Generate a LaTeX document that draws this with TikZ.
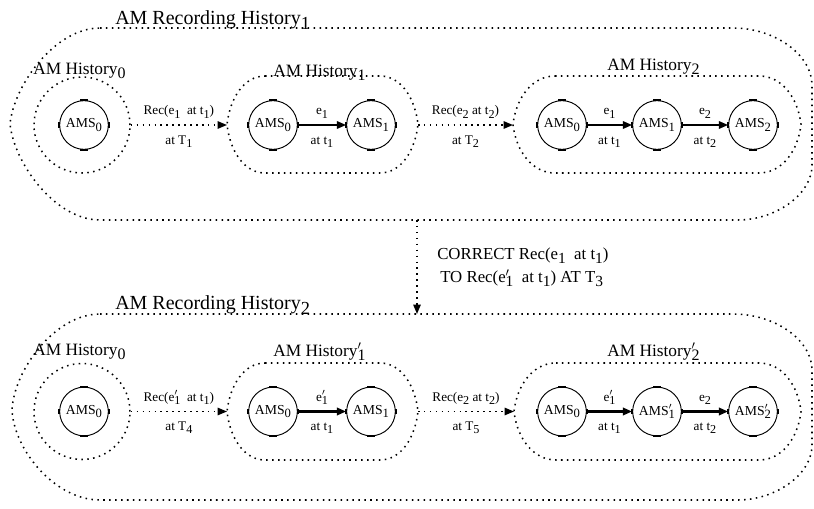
\documentclass[tikz,border=0pt]{standalone}
\usepackage{fontspec}
\setmainfont{Liberation Serif}
\usepackage{graphicx}
\usetikzlibrary{arrows.meta}
\newcommand{\lsub}[1]{\raisebox{-0.5ex}{\scalebox{0.92}{#1}}}
\newcommand{\lpsub}[1]{\makebox[0pt][l]{\raisebox{0.15ex}{$'$}}\lsub{#1}}
\begin{document}
\begin{tikzpicture}[x=0.75pt,y=-0.75pt,
  dotl/.style={line width=1.15pt, dash pattern=on 1.15pt off 3.3pt},
  dotarr/.style={dotl, -{Triangle[length=7pt,width=5.5pt]}},
  ams/.style={circle, draw, line width=0.7pt, minimum size=36.5pt, inner sep=0pt, font=\fontsize{10.3}{12}\selectfont},
  tickm/.style={line width=1.6pt},
  evt/.style={line width=1.6pt, -{Triangle[length=7pt,width=5.5pt]}},
  evtb/.style={line width=2.5pt, -{Triangle[length=7pt,width=5.5pt]}},
  lbl/.style={font=\fontsize{9.9}{11}\selectfont, inner sep=0pt, anchor=base},
  above lbl/.style={lbl, midway, yshift=7.5pt},
  below lbl/.style={lbl, midway, yshift=-14.5pt},
  hist/.style={font=\fontsize{13}{15}\selectfont, inner sep=0pt, anchor=base west},
  ttl/.style={font=\fontsize{15}{18}\selectfont, inner sep=0pt, anchor=base west},
  midtxt/.style={font=\fontsize{12.6}{14}\selectfont, inner sep=0pt, anchor=base west},
  hzero/.style={circle, dotl, draw, minimum size=72pt, inner sep=0pt}
]
\useasboundingbox (0,0) rectangle (814,509);

% ================= TOP: AM Recording History 1 =================
\draw[dotl] (100,28) -- (733,28) .. controls (775,28) and (812,55) .. (812,85) -- (812,165) .. controls (812,195) and (775,220) .. (738,220) -- (100,220) .. controls (55,220) and (14,163) .. (10,124) .. controls (14,85) and (55,28) .. (100,28);
\node[ttl] (t1) at (115,25) {AM Recording History\lsub{1}};

% History 0
\node[hzero] (h0) at (82,125) {};
\node[hist] (h0l) at (33,75) {AM History\lsub{0}};
\node[ams] (a0) at (84,125) {AMS\lsub{0}};

% History 1
\draw[dotl] (265,76) -- (380,76) .. controls (401,76) and (415,98) .. (418,124.5) .. controls (415,151) and (401,173) .. (380,173) -- (265,173) .. controls (244,173) and (230,151) .. (227,124.5) .. controls (230,98) and (244,76) .. (265,76);
\coordinate (h1W) at (227,125);
\coordinate (h1E) at (418,125);
\node[hist] (h1l) at (273,77) {AM History\lsub{1}};
\node[ams] (b0) at (273,125) {AMS\lsub{0}};
\node[ams] (b1) at (371,125) {AMS\lsub{1}};
\draw[evt] (b0.east) -- node[above lbl] {e\lsub{1}} node[below lbl] {at t\lsub{1}} (b1.west);

% History 2
\draw[dotl] (555,76) -- (759,76) .. controls (782,76) and (798,98) .. (801,124.5) .. controls (798,151) and (782,173) .. (759,173) -- (555,173) .. controls (532,173) and (516,151) .. (513,124.5) .. controls (516,98) and (532,76) .. (555,76);
\coordinate (h2W) at (513,125);
\node[hist] (h2l) at (607,71) {AM History\lsub{2}};
\node[ams] (c0) at (562,125) {AMS\lsub{0}};
\node[ams] (c1) at (657,125) {AMS\lsub{1}};
\node[ams] (c2) at (753,125) {AMS\lsub{2}};
\draw[evt] (c0.east) -- node[above lbl] {e\lsub{1}} node[below lbl] {at t\lsub{1}} (c1.west);
\draw[evt] (c1.east) -- node[above lbl] {e\lsub{2}} node[below lbl] {at t\lsub{2}} (c2.west);

% recordings
\draw[dotarr] (h0.east) -- node[above lbl] {Rec(e\lsub{1}\enspace at t\lsub{1})} node[below lbl] {at T\lsub{1}} (h1W);
\draw[dotarr] (h1E) -- node[above lbl] {Rec(e\lsub{2} at t\lsub{2})} node[below lbl] {at T\lsub{2}} (h2W);

% ================= correction =================
\coordinate (o1S) at (417,220);
\coordinate (o2N) at (417,314);
\draw[dotarr] (o1S) -- (o2N);
\node[midtxt] (c1t) at (437,260) {CORRECT Rec(e\lsub{1}\enspace at t\lsub{1})};
\node[midtxt] (c2t) at (440,283) {TO Rec(e\lpsub{1}\enspace at t\lsub{1}) AT T\lsub{3}};

% ================= BOTTOM: AM Recording History 2 =================
\draw[dotl] (100,314) -- (733,314) .. controls (775,314) and (812,340) .. (812,370) -- (812,445) .. controls (812,475) and (775,500) .. (738,500) -- (100,500) .. controls (55,500) and (14,450) .. (12,410) .. controls (14,370) and (55,314) .. (100,314);
\node[ttl] (t2) at (115,310) {AM Recording History\lsub{2}};

% History 0
\node[hzero] (g0) at (82,411.5) {};
\node[hist] (g0l) at (33,356) {AM History\lsub{0}};
\node[ams] (p0) at (84,411.5) {AMS\lsub{0}};

% History 1'
\draw[dotl] (265,363) -- (380,363) .. controls (401,363) and (415,385) .. (418,411.5) .. controls (415,438) and (401,460) .. (380,460) -- (265,460) .. controls (244,460) and (230,438) .. (227,411.5) .. controls (230,385) and (244,363) .. (265,363);
\coordinate (g1W) at (227,411.5);
\coordinate (g1E) at (418,411.5);
\node[hist] (g1l) at (273,357) {AM History\lpsub{1}};
\node[ams] (q0) at (273,411.5) {AMS\lsub{0}};
\node[ams] (q1) at (371,411.5) {AMS\lsub{1}};
\draw[evtb] (q0.east) -- node[above lbl] {e\lpsub{1}} node[below lbl] {at t\lsub{1}} (q1.west);

% History 2'
\draw[dotl] (556,363) -- (759,363) .. controls (782,363) and (798,385) .. (801,411.5) .. controls (798,438) and (782,460) .. (759,460) -- (556,460) .. controls (533,460) and (517,438) .. (514,411.5) .. controls (517,385) and (533,363) .. (556,363);
\coordinate (g2W) at (514,411.5);
\node[hist] (g2l) at (607,357) {AM History\lpsub{2}};
\node[ams] (r0) at (562,411.5) {AMS\lsub{0}};
\node[ams] (r1) at (657,411.5) {AMS\lpsub{1}};
\node[ams] (r2) at (753,411.5) {AMS\lpsub{2}};
\draw[evtb] (r0.east) -- node[above lbl] {e\lpsub{1}} node[below lbl] {at t\lsub{1}} (r1.west);
\draw[evtb] (r1.east) -- node[above lbl] {e\lsub{2}} node[below lbl] {at t\lsub{2}} (r2.west);

\draw[dotarr] (g0.east) -- node[above lbl] {Rec(e\lpsub{1}\enspace at t\lsub{1})} node[below lbl] {at T\lsub{4}} (g1W);
\draw[dotarr] (g1E) -- node[above lbl] {Rec(e\lsub{2} at t\lsub{2})} node[below lbl] {at T\lsub{5}} (g2W);

% tick marks on state circles
\foreach \n in {a0,b0,b1,c0,c1,c2,p0,q0,q1,r0,r1,r2} {
  \draw[tickm] ([xshift=-3pt]\n.north) -- ([xshift=3pt]\n.north);
  \draw[tickm] ([xshift=-3pt]\n.south) -- ([xshift=3pt]\n.south);
  \draw[tickm] ([yshift=-2pt]\n.west) -- ([yshift=2pt]\n.west);
  \draw[tickm] ([yshift=-2pt]\n.east) -- ([yshift=2pt]\n.east);
}
\end{tikzpicture}
\end{document}
